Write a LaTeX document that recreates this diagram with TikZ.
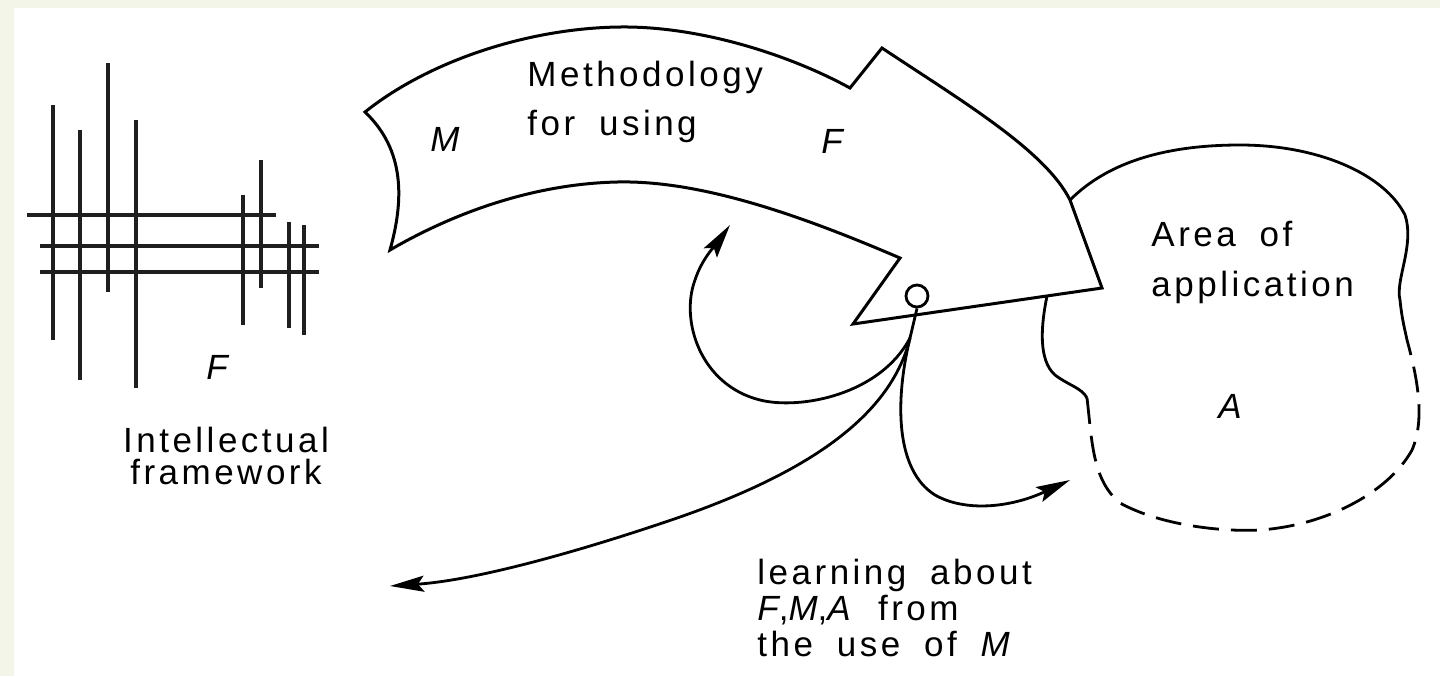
\documentclass[tikz,border=0pt]{standalone}
\usepackage{fontspec}
\setmainfont{Liberation Sans}
\newfontfamily\lettering[LetterSpace=10,WordSpace=1.8]{Liberation Sans}
\usetikzlibrary{arrows.meta}
\definecolor{scanstrip}{RGB}{242,245,232}

\begin{document}
\begin{tikzpicture}[
    x=0.5pt, y=-0.5pt,
    bigarrow/.style={draw=black, line width=1.5pt, line join=miter, fill=white},
    cloudline/.style={draw=black, line width=1.4pt},
    gridbar/.style={draw=black!88, line width=2pt},
    feedback/.style={draw=black, line width=1.4pt, -{Stealth[length=17pt,width=8pt,inset=3pt]}},
    words/.style={inner sep=0pt, align=left, font=\lettering\fontsize{17.5}{#1}\selectfont},
    words/.default=24pt,
    symb/.style={inner sep=0pt, font=\lettering\itshape\fontsize{17.5}{20}\selectfont},
]

% scan background
\fill[scanstrip] (0,0) rectangle (1440,676);
\fill[white] (14,8) rectangle (1440,676);

% intellectual framework F
\foreach \x/\ya/\yb in {53/105/340, 80/130/380, 108/63/292, 136/120/388,
                        243/195/325, 261/160/288, 289/222/328, 304/225/335}
    \draw[gridbar] (\x,\ya) -- (\x,\yb);
\foreach \y/\xa/\xb in {215/27/276, 246/40/319, 272/40/319}
    \draw[gridbar] (\xa,\y) -- (\xb,\y);
\node[symb] (gridF) at (217,367) {F};
\node[words=16pt, align=center, anchor=north] (framework) at (226,427) {Intellectual\\framework};

% methodology M (big arrow)
\draw[bigarrow] (365,112)
    .. controls (430,60) and (530,28) .. (620,27)
    .. controls (700,26) and (790,55) .. (850,88)
    -- (882,48)
    .. controls (960,100) and (1045,150) .. (1070,200)
    -- (1102,288) -- (853,324) -- (900,258)
    .. controls (800,215) and (700,180) .. (617,182)
    .. controls (530,184) and (450,215) .. (390,250)
    .. controls (404,200) and (405,150) .. (365,112) -- cycle;
\node[words=24.5pt, anchor=north west] (method) at (527,61) {Methodology\\for using};
\node[symb] (methodM) at (445,139) {M};
\node[symb] (methodF) at (832,141) {F};

% area of application A
\draw[cloudline] (1070,200)
    .. controls (1110,160) and (1170,145) .. (1240,145)
    .. controls (1320,145) and (1385,175) .. (1405,215)
    .. controls (1415,245) and (1395,280) .. (1400,300)
    .. controls (1402,320) and (1405,330) .. (1407,340);
\draw[cloudline] (1047,296)
    .. controls (1041,325) and (1038,360) .. (1055,375)
    .. controls (1068,385) and (1082,388) .. (1087,398);
\draw[cloudline, dash pattern=on 13pt off 6pt] (1087,398)
    .. controls (1092,440) and (1092,480) .. (1120,503)
    .. controls (1160,525) and (1220,532) .. (1260,530)
    .. controls (1330,525) and (1390,490) .. (1412,450)
    .. controls (1425,420) and (1418,380) .. (1407,340);
\node[words=25pt, anchor=north west] (area) at (1151,221) {Area of\\application};
\node[symb] (areaA) at (1230,406) {A};

% learning from the use of M
\node[circle, draw, line width=1.4pt, fill=white, minimum size=11pt, inner sep=0pt] (obs) at (917,296) {};
\coordinate (fork) at (910,338);
\coordinate (toM) at (730,225);
\coordinate (toF) at (390,586);
\coordinate (toA) at (1070,480);
\draw[line width=1.4pt] (obs.south) -- (fork);
\draw[feedback] (fork) .. controls (880,395) and (800,410) .. (760,400)
    .. controls (700,385) and (680,320) .. (695,280)
    .. controls (702,258) and (718,242) .. (toM);
\draw[feedback] (fork) .. controls (890,420) and (800,475) .. (680,517)
    .. controls (590,548) and (480,580) .. (toF);
\draw[feedback] (fork) .. controls (895,400) and (895,470) .. (935,495)
    .. controls (965,512) and (1010,508) .. (toA);
\node[words=18pt, anchor=north west] (learning) at (757,559)
    {learning about\\\textit{F},\textit{M},\textit{A} from\\the use of \textit{M}};

\end{tikzpicture}
\end{document}
